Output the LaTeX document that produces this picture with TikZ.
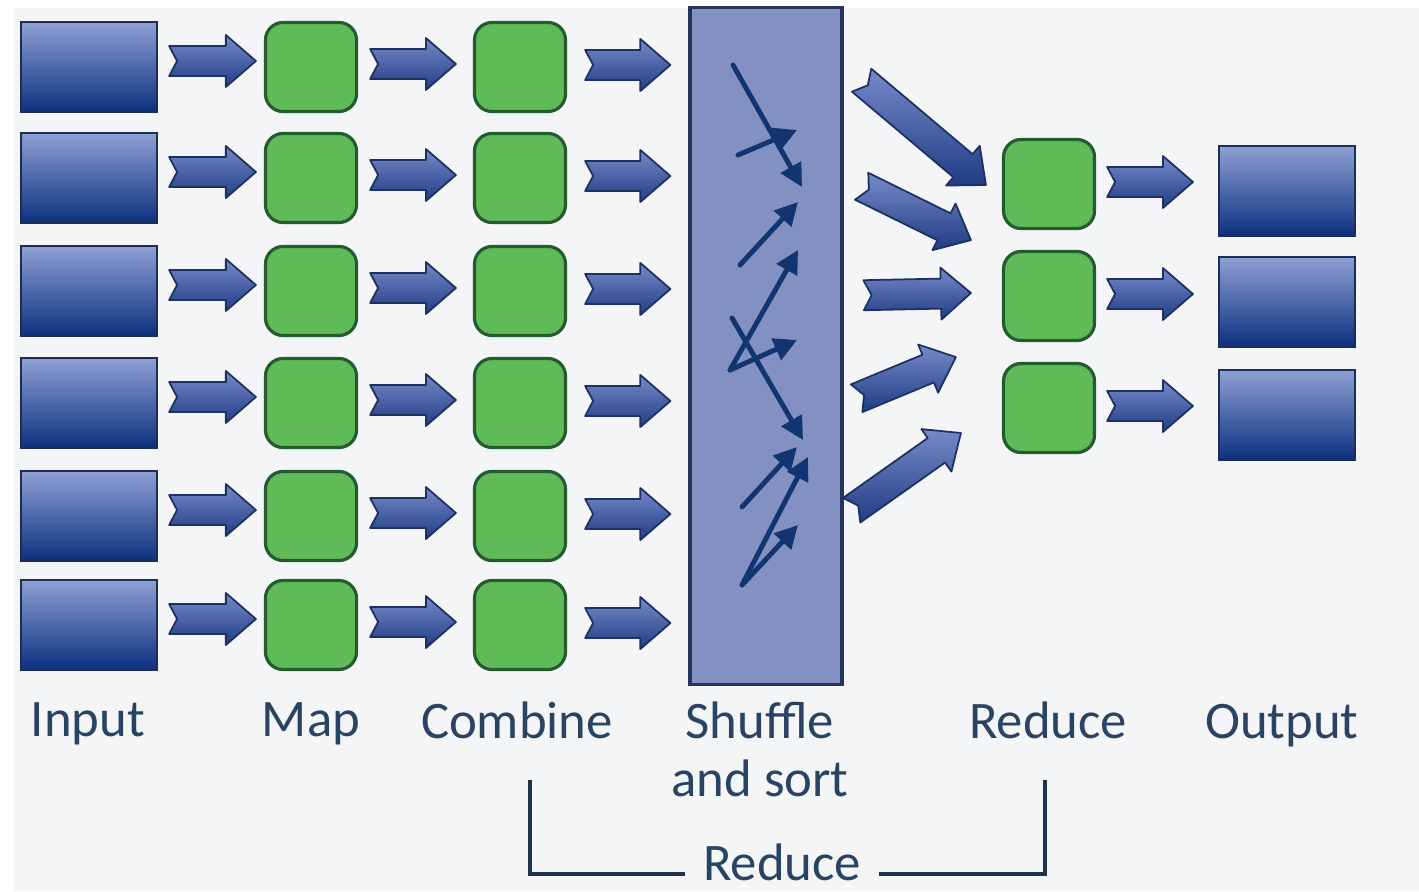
\documentclass[tikz,border=0pt]{standalone}
\usepackage{fontspec}
\setmainfont{Carlito}
\usetikzlibrary{calc,arrows.meta}

\definecolor{boxtop}{RGB}{142,160,212}
\definecolor{boxbot}{RGB}{12,48,126}
\definecolor{boxline}{RGB}{30,45,85}
\definecolor{greenfill}{RGB}{96,186,88}
\definecolor{greenline}{RGB}{36,92,48}
\definecolor{shuffill}{RGB}{130,145,194}
\definecolor{shufline}{RGB}{38,52,92}
\definecolor{arrowtop}{RGB}{118,138,200}
\definecolor{arrowbot}{RGB}{32,60,132}
\definecolor{arrowline}{RGB}{30,48,98}
\definecolor{thinblue}{RGB}{18,52,112}
\definecolor{labelcol}{RGB}{40,68,98}
\definecolor{bgcol}{RGB}{243,245,247}

\tikzset{
  datablock/.style={draw=boxline, line width=0.6pt, top color=boxtop, bottom color=boxbot,
    minimum width=1.36cm, minimum height=0.9cm, inner sep=0pt},
  task/.style={draw=greenline, fill=greenfill, line width=0.9pt, rounded corners=5pt,
    minimum width=0.91cm, minimum height=0.89cm, inner sep=0pt},
  shufbox/.style={draw=shufline, fill=shuffill, line width=0.9pt,
    minimum width=1.52cm, minimum height=6.76cm, inner sep=0pt},
  stage/.style={text=labelcol, font=\fontsize{15}{16.5}\selectfont, align=center, inner sep=2pt},
  fatarrow/.style={draw=arrowline, line width=0.5pt, top color=arrowtop, bottom color=arrowbot,
    line join=round},
  shufflearrow/.style={draw=thinblue, line width=1.4pt, line cap=round,
    -{Triangle[length=6.5pt,width=6.5pt]}},
  bracket/.style={draw=labelcol!75!black, line width=1.2pt}
}

% block arrow from #2 to #3
\newcommand\fatarrow[3][]{%
  \coordinate (fs) at (#2);
  \coordinate (fe) at (#3);
  \coordinate (fb) at ($(fe)!0.3cm!(fs)$);
  \path[fatarrow,#1] ($(fs)!0.15cm!90:(fe)$) -- ($(fb)!0.15cm!90:(fe)$)
    -- ($(fb)!0.26cm!90:(fe)$) -- (fe) -- ($(fb)!0.26cm!-90:(fe)$)
    -- ($(fb)!0.15cm!-90:(fe)$) -- ($(fs)!0.15cm!-90:(fe)$)
    -- ($(fs)!0.08cm!(fe)$) -- cycle;
}

\begin{document}
\begin{tikzpicture}[x=0.01cm,y=-0.01cm]
  \fill[white] (0,0) rectangle (1419,891);
  \fill[bgcol] (14,8) rectangle (1419,891);
  \useasboundingbox (0,0) rectangle (1419,891);

  % shuffle column
  \node[shufbox] (shuf) at (766,346) {};
  \foreach \xa/\ya/\xb/\yb in {733/65/802/187, 738/155/797/130, 740/265/798/202,
      730/370/798/250, 730/370/797/340, 732/318/803/440, 742/507/797/447,
      742/585/808/457, 742/585/798/525}
    \draw[shufflearrow] (\xa,\ya) -- (\xb,\yb);

  % map side
  \foreach \i/\y in {1/67,2/178,3/291,4/403,5/516,6/625}{
    \node[datablock] (in\i) at (89,\y) {};
    \node[task] (map\i) at (311,\y) {};
    \node[task] (comb\i) at (520,\y) {};
  }
  \foreach \i in {1,...,6}{
    \fatarrow{$(in\i.east)+(11,-6)$}{$(map\i.west)+(-8,-6)$}
    \fatarrow{$(map\i.east)+(12,-3)$}{$(comb\i.west)+(-17,-3)$}
    \fatarrow{$(comb\i.east)+(18,-2)$}{$(shuf.west |- comb\i.east)+(-18,-2)$}
  }

  % reduce side
  \foreach \i/\y/\z in {1/184/191,2/296/302,3/408/415}{
    \node[task] (red\i) at (1049,\y) {};
    \node[datablock] (out\i) at (1287,\z) {};
  }
  \foreach \i in {1,2,3}{
    \fatarrow{$(red\i.east)+(11,-2)$}{$(out\i.west |- red\i.east)+(-25,-2)$}
  }

  \fatarrow{$(shuf.north east)+(18,74)$}{$(red1.west)+(-16,1)$}
  \fatarrow{$(shuf.north east)+(18,180)$}{$(red1.south west)+(-31,10)$}
  \fatarrow{$(shuf.north east)+(20,289)$}{$(red2.west)+(-31,-3)$}
  \fatarrow{$(shuf.north east)+(13,392)$}{$(red2.south west)+(-46,15)$}
  \fatarrow{$(shuf.north east)+(8,504)$}{$(red3.west)+(-41,25)$}

  % labels
  \node[stage] (lab-in) at (88,724) {Input};
  \node[stage] (lab-map) at (311,724) {Map};
  \node[stage] (lab-comb) at (517,720) {Combine};
  \node[stage] (lab-shuf) at (760,749) {Shuffle\\and sort};
  \node[stage] (lab-red) at (1048,720) {Reduce};
  \node[stage] (lab-out) at (1282,726) {Output};
  \node[stage] (lab-sum) at (782,862) {Reduce};

  \coordinate (brL) at (530,780);
  \coordinate (brR) at (1045,780);
  \draw[bracket] ($(lab-sum.west)+(-10,12)$) -| (brL);
  \draw[bracket] ($(lab-sum.east)+(10,12)$) -| (brR);
\end{tikzpicture}
\end{document}
